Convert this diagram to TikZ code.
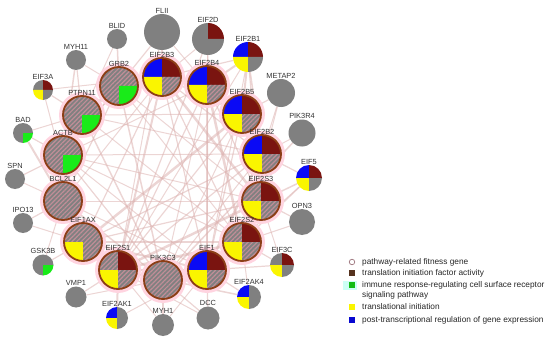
\documentclass[tikz,border=0pt]{standalone}
\usepackage{fontspec}
\setmainfont{Liberation Sans}
\usetikzlibrary{patterns.meta}

\definecolor{genegray}{RGB}{128,128,128}
\definecolor{transred}{RGB}{122,20,16}
\definecolor{transbrown}{RGB}{86,50,30}
\definecolor{immunegreen}{RGB}{25,235,25}
\definecolor{inityellow}{RGB}{250,245,0}
\definecolor{postblue}{RGB}{10,10,245}
\definecolor{ringbrown}{RGB}{140,62,22}
\definecolor{edgepink}{RGB}{220,178,176}
\definecolor{halopink}{RGB}{255,212,224}
\definecolor{hatchpink}{RGB}{192,142,152}
\definecolor{keycyan}{RGB}{205,255,245}

\pgfdeclarelayer{edges}
\pgfdeclarelayer{halos}
\pgfdeclarelayer{names}
\pgfsetlayers{edges,halos,main,names}

\tikzset{
  gene/.style={circle, inner sep=0pt, draw=none},
  genelabel/.style={font=\fontsize{7.4}{8}\selectfont, text=black!80, inner sep=0.5pt},
  ring/.style={draw=ringbrown, line width=1.8pt},
  interaction/.style={draw=edgepink, opacity=0.55},
  qgray/.style={fill=genegray},
  qred/.style={fill=transred},
  qyellow/.style={fill=inityellow},
  qblue/.style={fill=postblue},
  qgreen/.style={fill=immunegreen},
  qhatch/.style={fill=genegray, postaction={pattern={Lines[angle=45,distance=3.2pt,line width=1.2pt]}, pattern color=hatchpink}},
  keybox/.style={rectangle, inner sep=0pt, minimum size=5.5pt},
  keytext/.style={font=\fontsize{8.3}{10}\selectfont, text=black!85, inner sep=1pt, anchor=base west}
}

\begin{document}
\begin{tikzpicture}[x=1pt, y=1pt]
  \useasboundingbox (0,0) rectangle (550,341);
  \def\halo{4pt}

  \foreach \n/\x/\y/\rad/\qa/\qb/\qc/\qd/\hub in {
    GRB2/119/255/19/qhatch/qhatch/qhatch/qgreen/1,
    EIF2B3/162/264/19/qblue/qred/qyellow/qhatch/1,
    EIF2B4/207/256/19/qblue/qred/qyellow/qhatch/1,
    EIF2B5/242/227/19/qblue/qred/qyellow/qhatch/1,
    EIF2B2/262/187/19/qblue/qred/qyellow/qhatch/1,
    EIF2S3/261/140/19/qhatch/qred/qyellow/qhatch/1,
    EIF2S2/242/99/19/qhatch/qred/qyellow/qhatch/1,
    EIF1/207/71/19/qblue/qred/qyellow/qhatch/1,
    PIK3C3/163/61/19/qhatch/qhatch/qhatch/qhatch/1,
    EIF2S1/118/71/19/qhatch/qred/qyellow/qhatch/1,
    EIF1AX/83/99/19/qhatch/qhatch/qyellow/qhatch/1,
    BCL2L1/63/140/19/qhatch/qhatch/qhatch/qhatch/1,
    ACTB/63/186/19/qhatch/qhatch/qhatch/qgreen/1,
    PTPN11/82/226/19/qhatch/qhatch/qhatch/qgreen/1,
    FLII/162/309/18/qgray/qgray/qgray/qgray/0,
    EIF2D/208/302/16/qgray/qred/qgray/qgray/0,
    EIF2B1/248/284/15/qblue/qred/qyellow/qgray/0,
    METAP2/281/248/14/qgray/qgray/qgray/qgray/0,
    PIK3R4/302/208/13.5/qgray/qgray/qgray/qgray/0,
    EIF5/309/163/13/qblue/qred/qyellow/qgray/0,
    OPN3/302/119/13/qgray/qgray/qgray/qgray/0,
    EIF3C/282/76/12/qgray/qred/qyellow/qgray/0,
    EIF2AK4/249/44/12/qblue/qgray/qyellow/qgray/0,
    DCC/208/23/11.5/qgray/qgray/qgray/qgray/0,
    MYH1/163/16/11/qgray/qgray/qgray/qgray/0,
    EIF2AK1/117/23/11/qblue/qgray/qyellow/qgray/0,
    VMP1/76/44/10.5/qgray/qgray/qgray/qgray/0,
    GSK3B/43/76/10.5/qgray/qgray/qgray/qgreen/0,
    IPO13/23/118/10/qgray/qgray/qgray/qgray/0,
    SPN/15/162/10/qgray/qgray/qgray/qgray/0,
    BAD/23/208/10/qgray/qgray/qgray/qgreen/0,
    EIF3A/43/251/10/qgray/qred/qyellow/qgray/0,
    MYH11/76/281/10/qgray/qgray/qgray/qgray/0,
    BLID/117/302/10/qgray/qgray/qgray/qgray/0} {
    \node[gene, minimum size={2*\rad*1pt}] (\n) at (\x,\y) {};
    \ifnum\hub=1
      \begin{pgfonlayer}{halos}
        \fill[halopink] (\n.center) circle({\rad*1pt+\halo});
      \end{pgfonlayer}
    \fi
    \fill[\qa] (\n.center) -- ++(180:\rad pt) arc[start angle=180, end angle=90, radius=\rad pt] -- cycle;
    \fill[\qb] (\n.center) -- ++(90:\rad pt) arc[start angle=90, end angle=0, radius=\rad pt] -- cycle;
    \fill[\qc] (\n.center) -- ++(180:\rad pt) arc[start angle=180, end angle=270, radius=\rad pt] -- cycle;
    \fill[\qd] (\n.center) -- ++(0:\rad pt) arc[start angle=0, end angle=-90, radius=\rad pt] -- cycle;
    \ifnum\hub=1
      \draw[ring] (\n.center) circle(\rad pt);
    \fi
    \begin{pgfonlayer}{names}
      \node[genelabel, anchor=south] (\n-name) at (\n.north) {\n};
    \end{pgfonlayer}
  }

  \begin{pgfonlayer}{edges}
    \foreach \a/\b/\w in {
      EIF2B3/EIF2B4/2, EIF2B3/EIF2B5/1.2, EIF2B3/EIF2B2/1.2, EIF2B3/EIF2S3/2.5, EIF2B3/EIF2S2/1.2,
      EIF2B3/EIF1/1.2, EIF2B3/EIF2S1/2, EIF2B3/EIF1AX/1.2,
      EIF2B4/EIF2B5/2, EIF2B4/EIF2B2/1.2, EIF2B4/EIF2S3/1.2, EIF2B4/EIF2S2/2.5, EIF2B4/EIF1/1.2,
      EIF2B4/EIF2S1/1.2, EIF2B4/PIK3C3/1,
      EIF2B5/EIF2B2/2, EIF2B5/EIF2S3/1.2, EIF2B5/EIF2S1/1.2, EIF2B5/EIF1AX/2.5, EIF2B5/EIF1/1.2,
      EIF2B5/PTPN11/1,
      EIF2B2/EIF2S3/2, EIF2B2/EIF2S1/1.2, EIF2B2/EIF1AX/1.2, EIF2B2/EIF1/2.5, EIF2B2/ACTB/1,
      EIF2S3/EIF2S2/2, EIF2S3/EIF2S1/2.5, EIF2S3/EIF1AX/1.2, EIF2S3/EIF1/1.2, EIF2S3/ACTB/1,
      EIF2S3/BCL2L1/1,
      EIF2S2/EIF2S1/2.5, EIF2S2/EIF1/2, EIF2S2/EIF1AX/1.2, EIF2S2/GRB2/1, EIF2S2/PTPN11/1,
      EIF1/EIF2S1/2, EIF1/EIF1AX/2, EIF1/PIK3C3/1.2, EIF1/BCL2L1/1,
      EIF2S1/EIF1AX/2.5, EIF2S1/PIK3C3/1.2,
      GRB2/PTPN11/3, GRB2/ACTB/1.2, GRB2/BCL2L1/1.2, GRB2/PIK3C3/1.5, GRB2/EIF2S3/1,
      PTPN11/ACTB/2, PTPN11/BCL2L1/1.2, PTPN11/EIF2B2/1, PTPN11/PIK3C3/1.5,
      ACTB/BCL2L1/2, ACTB/EIF2B4/1, ACTB/EIF1/1, ACTB/PIK3C3/1.2, ACTB/EIF2S2/1,
      BCL2L1/EIF1AX/1.2, BCL2L1/PIK3C3/1.5, BCL2L1/EIF2B3/1,
      PIK3C3/EIF2B5/1, PIK3C3/EIF2B2/1,
      FLII/EIF2B3/1.2, FLII/EIF2B4/1, FLII/ACTB/1.2, FLII/EIF2S1/1,
      BLID/GRB2/1.5, BLID/PTPN11/1,
      MYH11/ACTB/1.5, MYH11/PTPN11/1.2, MYH11/GRB2/1,
      EIF3A/PTPN11/1.2, EIF3A/EIF2B3/1, EIF3A/EIF1AX/1,
      BAD/BCL2L1/2, BAD/PTPN11/1, BAD/ACTB/1.2,
      SPN/ACTB/1.2, SPN/BCL2L1/1,
      IPO13/BCL2L1/1.2, IPO13/EIF1AX/1,
      GSK3B/EIF1AX/1.2, GSK3B/BCL2L1/1,
      VMP1/EIF2S1/1.2, VMP1/PIK3C3/1,
      EIF2AK1/EIF2S1/2, EIF2AK1/EIF1/1,
      MYH1/PIK3C3/1.2, MYH1/EIF2S1/1, MYH1/EIF1/1,
      DCC/EIF1/1.2, DCC/EIF2S1/1, DCC/PIK3C3/1.2,
      EIF2AK4/EIF1/1.2, EIF2AK4/EIF2S2/1, EIF2AK4/EIF2S1/1.5,
      EIF3C/EIF2S2/1.2, EIF3C/EIF1/1.2, EIF3C/EIF2S3/1,
      OPN3/EIF2S3/1.2, OPN3/EIF2S2/1,
      EIF5/EIF2S3/1.5, EIF5/EIF2B2/1.2, EIF5/EIF2S2/1.2, EIF5/EIF1/1,
      PIK3R4/EIF2B2/1, PIK3R4/PIK3C3/1.5,
      METAP2/EIF2B5/1.2, METAP2/EIF2B2/1, METAP2/EIF2S2/1,
      EIF2B1/EIF2B4/2, EIF2B1/EIF2B5/2, EIF2B1/EIF2B2/1.5, EIF2B1/EIF2S3/1.2, EIF2B1/EIF2B3/1.2,
      EIF2B1/EIF1/1, EIF2B1/EIF2S1/1,
      EIF2D/EIF2B3/1, EIF2D/EIF2B4/1, EIF2D/EIF2S1/1.2, EIF2D/EIF1/1} {
      \draw[interaction, line width=\w pt] (\a) -- (\b);
    }
  \end{pgfonlayer}

  \node[gene, draw=hatchpink!80!black, line width=0.7pt, minimum size=5.5pt] (key-fitness) at (352,79) {};
  \node[keybox, fill=transbrown] (key-trans) at (352,68) {};
  \node[keybox, fill=keycyan, minimum width=14pt, minimum height=9pt] (key-glow) at (350,56) {};
  \node[keybox, fill=immunegreen!80!black] (key-immune) at (352,56) {};
  \node[keybox, fill=inityellow] (key-init) at (352,34) {};
  \node[keybox, fill=postblue!85!black] (key-post) at (352,21) {};

  \node[keytext] (txt-fitness) at (361,76.5) {pathway-related fitness gene};
  \node[keytext] (txt-trans) at (361,65.5) {translation initiation factor activity};
  \node[keytext] (txt-immune) at (361,53.5) {immune response-regulating cell surface receptor};
  \node[keytext] (txt-immune2) at (361,43.5) {signaling pathway};
  \node[keytext] (txt-init) at (361,31.5) {translational initiation};
  \node[keytext] (txt-post) at (361,18.5) {post-transcriptional regulation of gene expression};
\end{tikzpicture}
\end{document}
